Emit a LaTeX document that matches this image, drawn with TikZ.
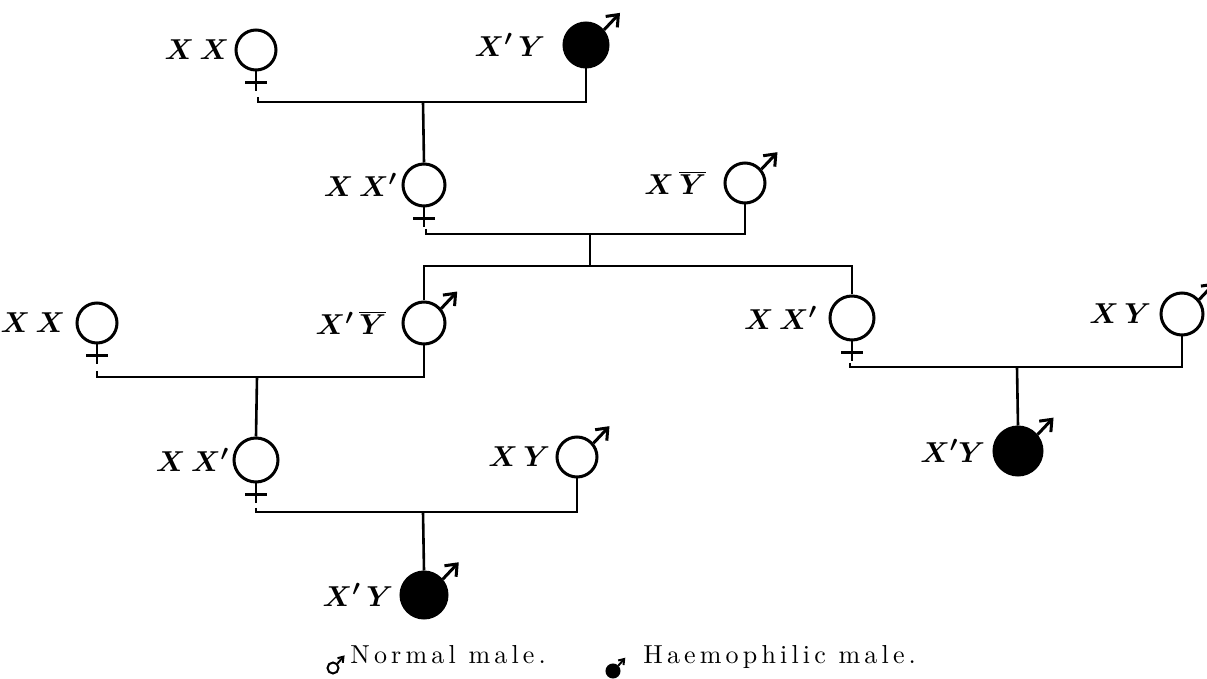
\documentclass[tikz,border=0pt]{standalone}
\usepackage{fontspec}
\newfontfamily\legfont{lmroman10-regular.otf}[LetterSpace=16]
\usetikzlibrary{arrows.meta,calc}
\newcommand\femcross[1]{%
  \draw[lnk] (#1.south) -- ++(0,20);
  \draw[lnk] ($(#1.south)+(-11,11)$) -- ++(22,0);}
\newcommand\malearr[1]{\draw[marr] (#1.40) -- ++(16,-17);}
\begin{document}
\begin{tikzpicture}[x=0.5pt,y=-0.5pt,
  sym/.style={circle,draw,line width=1.5pt,inner sep=0pt,minimum size=21pt},
  aff/.style={sym,fill=black},
  lab/.style={anchor=east,inner sep=0pt,font=\boldmath\fontsize{15}{17}\selectfont},
  lnk/.style={line width=1.3pt},
  marr/.style={-{Straight Barb[length=5pt,width=8pt]},line width=1.5pt},
  legsym/.style={circle,draw,line width=1pt,inner sep=0pt,minimum size=5.5pt},
  legtxt/.style={anchor=base west,inner sep=0pt,font=\legfont\fontsize{13}{15}\selectfont},
  smarr/.style={-{Straight Barb[length=2.5pt,width=3.5pt]},line width=1pt}]
\useasboundingbox (0,0) rectangle (1207,679);

% generation 1
\node[sym,minimum size=20pt] (g1f) at (256,50) {};
\node[aff,minimum size=22pt] (g1m) at (586,45) {};
\femcross{g1f}
\malearr{g1m}
\node[lab] (l1f) at ($(g1f.west)+(-5,0)$) {$X\,X$};
\node[lab] (l1m) at ($(g1m.west)+(-17,0)$) {$X'\,Y$};
\coordinate (m1a) at (258,97);
\coordinate (m1c) at (423,102);
\draw[lnk] (m1a) |- (g1m.south |- m1c) -- (g1m.south);

% generation 2
\node[sym] (g2f) at (424,185) {};
\node[sym,minimum size=20pt] (g2m) at (745,183) {};
\femcross{g2f}
\malearr{g2m}
\draw[lnk] (m1c) -- (g2f.north);
\node[lab] (l2f) at ($(g2f.west)+(-4,0)$) {$X\,X'$};
\node[lab] (l2m) at ($(g2m.west)+(-17,0)$) {$X\,\overline{Y}$};
\coordinate (m2a) at (426,229);
\coordinate (m2c) at (590,234);
\coordinate (s2) at (590,266);
\draw[lnk] (m2a) |- (g2m.south |- m2c) -- (g2m.south);
\draw[lnk] (m2c) -- (s2);

% generation 3
\node[sym,minimum size=20pt] (g3f) at (97,323) {};
\node[sym] (g3m) at (424,323) {};
\node[sym,minimum size=22pt] (g3f2) at (852,318) {};
\node[sym] (g3m2) at (1182,314) {};
\femcross{g3f}
\femcross{g3f2}
\malearr{g3m}
\malearr{g3m2}
\draw[lnk] (g3m.north) |- (s2) -| (g3f2.north);
\node[lab] (l3f) at ($(g3f.west)+(-10,0)$) {$X\,X$};
\node[lab] (l3m) at ($(g3m.west)+(-15,0)$) {$X'\,\overline{Y}$};
\node[lab] (l3f2) at ($(g3f2.west)+(-11,0)$) {$X\,X'$};
\node[lab] (l3m2) at ($(g3m2.west)+(-8,0)$) {$X\,Y$};
\coordinate (m3a) at (97,371);
\coordinate (m3c) at (257,377);
\draw[lnk] (m3a) |- (g3m.south |- m3c) -- (g3m.south);
\coordinate (m3b) at (850,363);
\coordinate (m3d) at (1017,367);
\draw[lnk] (m3b) |- (g3m2.south |- m3d) -- (g3m2.south);

% generation 4
\node[sym,minimum size=22pt] (g4f) at (256,460) {};
\node[sym,minimum size=20pt] (g4m) at (577,457) {};
\node[aff,minimum size=24pt] (g4m2) at (1018,451) {};
\femcross{g4f}
\malearr{g4m}
\malearr{g4m2}
\draw[lnk] (m3c) -- (g4f.north);
\draw[lnk] (m3d) -- (g4m2.north);
\node[lab] (l4f) at ($(g4f.west)+(-3,0)$) {$X\,X'$};
\node[lab] (l4m) at ($(g4m.west)+(-5,0)$) {$X\,Y$};
\node[lab] (l4m2) at ($(g4m2.west)+(-7,0)$) {$X'Y$};
\coordinate (m4a) at (256,508);
\coordinate (m4c) at (423,512);
\draw[lnk] (m4a) |- (g4m.south |- m4c) -- (g4m.south);

% generation 5
\node[aff,minimum size=23pt] (g5m) at (424,595) {};
\malearr{g5m}
\draw[lnk] (m4c) -- (g5m.north);
\node[lab] (l5m) at ($(g5m.west)+(-6,0)$) {$X'\,Y$};

% legend
\node[legsym] (ls1) at (333,668) {};
\draw[smarr] (ls1.45) -- ++(7,-8);
\node[legtxt] (lt1) at (350,664) {Normal male.};
\node[legsym,fill=black,minimum size=6.5pt] (ls2) at (613,671) {};
\draw[smarr] (ls2.45) -- ++(7,-8);
\node[legtxt] (lt2) at (643,664) {Haemophilic male.};
\end{tikzpicture}
\end{document}
